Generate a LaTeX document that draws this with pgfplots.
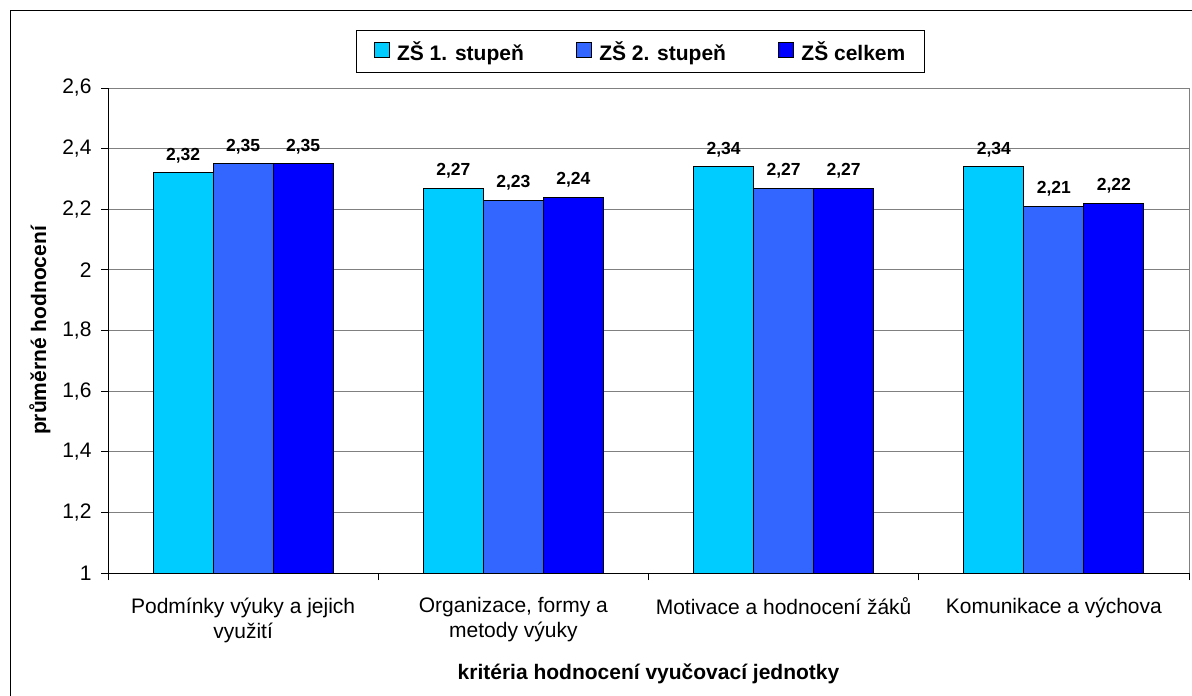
\documentclass[border=0pt]{standalone}
\usepackage{pgfplots}
\pgfplotsset{compat=1.18}
\usepackage{fontspec}
\setmainfont{Liberation Sans}
\definecolor{c1}{HTML}{00CCFF}
\definecolor{c2}{HTML}{3366FF}
\definecolor{c3}{HTML}{0000FF}
\definecolor{gridgray}{HTML}{808080}
\begin{document}
\begin{tikzpicture}[font=\fontsize{21}{25}\selectfont]
\path[use as bounding box] (0pt,0pt) rectangle (1192pt,-696pt);
\begin{scope}
\clip (0pt,0pt) rectangle (1192pt,-696pt);
\draw[line width=1.5pt] (10.5pt,-720pt) -- (10.5pt,-10.5pt) -- (1220pt,-10.5pt);
\end{scope}
\begin{axis}[
  at={(108pt,-573pt)}, anchor=south west,
  scale only axis, width=1081pt, height=485pt,
  ybar=0pt, bar width=0.2222,
  xmin=-0.5, xmax=3.5, ymin=1, ymax=2.6,
  ytick={1,1.2,1.4,1.6,1.8,2,2.2,2.4,2.6},
  xtick={0,1,2,3},
  xticklabels={{Podmínky výuky a jejich\\využití},{Organizace, formy a\\metody výuky},{Motivace a hodnocení žáků},{Komunikace a výchova}},
  minor xtick={-0.5,0.5,1.5,2.5,3.5},
  xtick pos=bottom, ytick pos=left,
  tick align=outside,
  major tick length=7pt, minor tick length=7pt,
  tick style={black, line width=1pt},
  major x tick style={draw=none},
  tick label style={font=\fontsize{21}{25}\selectfont},
  xticklabel style={align=center, yshift=-14pt},
  yticklabel style={xshift=-6pt},
  /pgf/number format/assume math mode=true,
  yticklabel style={/pgf/number format/fixed, /pgf/number format/precision=1, /pgf/number format/use comma},
  ymajorgrids, grid style={gridgray, line width=1pt},
  axis line style={draw=none},
  xlabel={kritéria hodnocení vyučovací jednotky},
  ylabel={průměrné hodnocení},
  label style={font=\bfseries\fontsize{21}{25}\selectfont},
  xlabel style={at={(axis description cs:0.5,-0.207)}, anchor=center},
  ylabel style={at={(axis description cs:-0.063,0.5)}, anchor=center},
  nodes near coords,
  every node near coord/.append style={font=\bfseries\fontsize{17.5}{20}\selectfont, yshift=6pt,
    /pgf/number format/fixed, /pgf/number format/precision=2, /pgf/number format/use comma, /pgf/number format/assume math mode=true},
  legend columns=3,
  legend style={at={(axis description cs:0.4926,1.1196)}, anchor=north, draw=black, line width=1pt,
    font=\bfseries\fontsize{21}{25}\selectfont, inner xsep=17pt, inner ysep=9pt,
    /tikz/every even column/.append style={column sep=50pt}},
  legend image code/.code={\draw[#1,draw=black,line width=0.8pt] (0pt,-6pt) rectangle (15pt,9pt);\path[draw=none,fill=none] (0pt,0pt) -- (21pt,0pt);},
  clip=false,
  extra description/.code={
    \draw[gridgray, line width=1pt] (rel axis cs:0,1) -- (rel axis cs:1,1) -- (rel axis cs:1,0);
    \draw[black, line width=1pt] (rel axis cs:0,1) -- (rel axis cs:0,0) -- (rel axis cs:1,0);
  },
]
\addplot[fill=c1, draw=black, line width=1pt] coordinates {(0,2.32) (1,2.27) (2,2.34) (3,2.34)};
\addplot[fill=c2, draw=black, line width=1pt] coordinates {(0,2.35) (1,2.23) (2,2.27) (3,2.21)};
\addplot[fill=c3, draw=black, line width=1pt] coordinates {(0,2.35) (1,2.24) (2,2.27) (3,2.22)};
\legend{ZŠ 1. stupeň, ZŠ 2. stupeň, ZŠ celkem}
\end{axis}
\end{tikzpicture}
\end{document}
